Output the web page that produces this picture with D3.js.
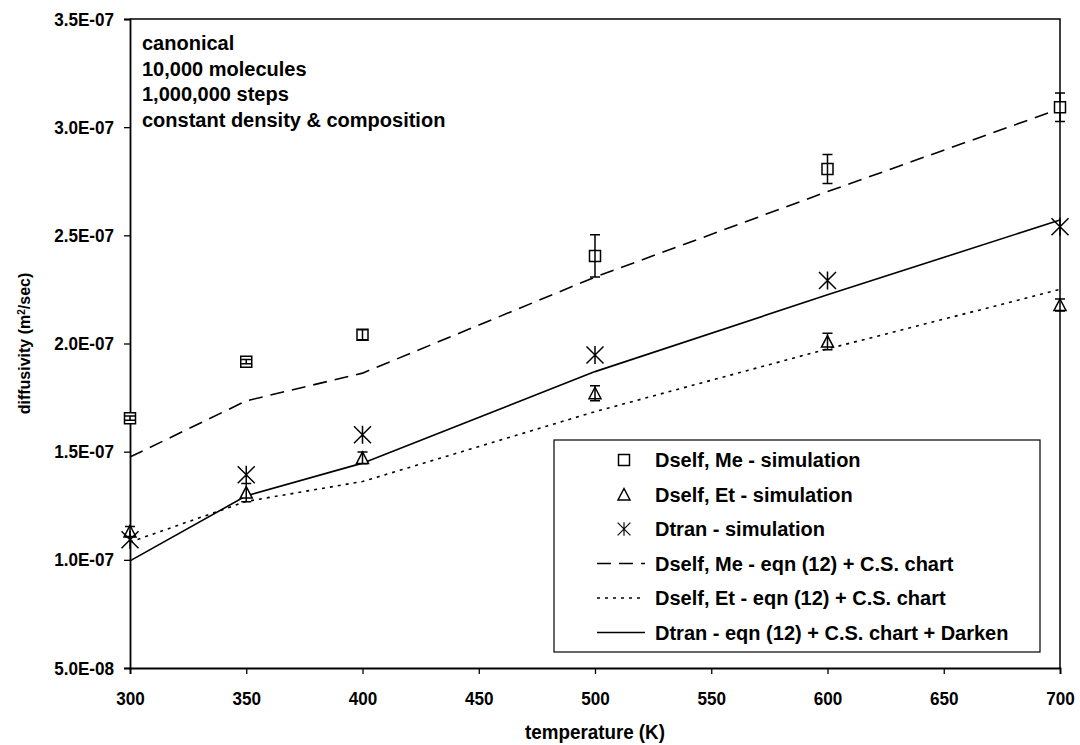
<!DOCTYPE html>
<html>
<head>
<meta charset="utf-8">
<script src="https://cdn.jsdelivr.net/npm/d3@7"></script>
<style>
  html, body { margin: 0; padding: 0; background: #fff; }
  svg { display: block; font-family: "Liberation Sans", Arial, sans-serif; font-weight: bold; }
</style>
</head>
<body>
<svg id="chart"></svg>
<script>
const temps = [300, 350, 400, 500, 600, 700];

// simulation results (m^2/sec) with error-bar half widths
const meSim = [1.655e-7, 1.916e-7, 2.040e-7, 2.405e-7, 2.807e-7, 3.092e-7];
const meErr = [0.010e-7, 0.010e-7, 0.023e-7, 0.098e-7, 0.067e-7, 0.066e-7];
const etSim = [1.131e-7, 1.311e-7, 1.471e-7, 1.770e-7, 2.009e-7, 2.178e-7];
const etErr = [0.023e-7, 0.042e-7, 0.027e-7, 0.035e-7, 0.038e-7, 0.028e-7];
const tranSim = [1.093e-7, 1.393e-7, 1.578e-7, 1.947e-7, 2.291e-7, 2.540e-7];

// eqn (12) + C.S. chart curves
const meEqn = [1.475e-7, 1.735e-7, 1.863e-7, 2.307e-7, 2.702e-7, 3.085e-7];
const etEqn = [1.082e-7, 1.270e-7, 1.362e-7, 1.685e-7, 1.975e-7, 2.250e-7];
const tranEqn = [0.995e-7, 1.296e-7, 1.447e-7, 1.870e-7, 2.225e-7, 2.571e-7];

const xTicks = [300, 350, 400, 450, 500, 550, 600, 650, 700];
const yTicks = [5e-8, 1e-7, 1.5e-7, 2e-7, 2.5e-7, 3e-7, 3.5e-7];

const notes = ['canonical', '10,000 molecules', '1,000,000 steps', 'constant density & composition'];
const legendLabels = [
  'Dself, Me - simulation',
  'Dself, Et - simulation',
  'Dtran - simulation',
  'Dself, Me - eqn (12) + C.S. chart',
  'Dself, Et - eqn (12) + C.S. chart',
  'Dtran - eqn (12) + C.S. chart + Darken'
];

const width = 1080, height = 745;
const margin = {left: 130, right: 20, top: 19, bottom: 77};
const squeeze = 0.9; // tick labels are a little condensed

const svg = d3.select('#chart')
  .attr('width', width)
  .attr('height', height);

const x = d3.scaleLinear()
  .domain([300, 700])
  .range([margin.left, width - margin.right]);

const y = d3.scaleLinear()
  .domain([5e-8, 3.5e-7])
  .range([height - margin.bottom, margin.top]);

const fmtE = v => {
  const [m, e] = v.toExponential(1).split('e');
  return m + 'E' + (+e < 0 ? '-' : '+') + String(Math.abs(+e)).padStart(2, '0');
};

// frame (top and right edges)
svg.append('path')
  .attr('d', `M${x(300)},${y(3.5e-7)}H${x(700)}V${y(5e-8)}`)
  .attr('fill', 'none')
  .attr('stroke', '#000')
  .attr('stroke-width', 1.5);

// axes
const yAxis = svg.append('g')
  .attr('transform', `translate(${x(300)},0)`)
  .call(d3.axisLeft(y).tickValues(yTicks).tickFormat(fmtE).tickSize(6));

const xAxis = svg.append('g')
  .attr('transform', `translate(0,${y(5e-8)})`)
  .call(d3.axisBottom(x).tickValues(xTicks).tickFormat(d3.format('d')).tickSize(6).tickPadding(18));

[yAxis, xAxis].forEach(g => {
  g.select('.domain').attr('stroke-width', 1.8);
  g.selectAll('.tick line').attr('stroke-width', 1.3);
  g.selectAll('text')
    .attr('font-family', '"Liberation Sans", Arial, sans-serif')
    .attr('font-weight', 'bold')
    .attr('font-size', 19)
    .attr('fill', '#000')
    .attr('transform', `scale(${squeeze},1)`);
});
yAxis.selectAll('text').attr('x', -16 / squeeze);

// axis titles
svg.append('text')
  .attr('transform', `translate(${x(500)},739) scale(0.94,1)`)
  .attr('text-anchor', 'middle')
  .attr('font-size', 20)
  .text('temperature (K)');

const yTitle = svg.append('text')
  .attr('transform', `translate(30,${y(2e-7)}) rotate(-90)`)
  .attr('text-anchor', 'middle')
  .attr('font-size', 16);
yTitle.append('tspan').text('diffusivity (m');
yTitle.append('tspan').attr('baseline-shift', 'super').attr('font-size', 10).text('2');
yTitle.append('tspan').text('/sec)');

// annotation block
svg.append('g')
  .selectAll('text')
  .data(notes)
  .join('text')
  .attr('x', 142)
  .attr('y', (d, i) => 50 + i * 25.7)
  .attr('font-size', 20)
  .text(d => d);

// model curves
const curves = [
  {vals: meEqn, dash: '14,8'},
  {vals: etEqn, dash: '3,5'},
  {vals: tranEqn, dash: null}
];
const line = d3.line().x((d, i) => x(temps[i])).y(d => y(d));

svg.append('g')
  .selectAll('path')
  .data(curves)
  .join('path')
  .attr('d', d => line(d.vals))
  .attr('fill', 'none')
  .attr('stroke', '#000')
  .attr('stroke-width', 1.6)
  .attr('stroke-dasharray', d => d.dash);

// marker shapes
const squarePath = 'M-5.5,-5.5H5.5V5.5H-5.5Z';
const trianglePath = 'M0,-6L6,5.5H-6Z';
const starPath = 'M-8.5,-8.5L8.5,8.5M-8.5,8.5L8.5,-8.5M0,-9V9';

function drawMarkers(vals, shape, fill) {
  svg.append('g')
    .selectAll('path')
    .data(vals)
    .join('path')
    .attr('transform', (d, i) => `translate(${x(temps[i])},${y(d)})`)
    .attr('d', shape)
    .attr('fill', fill)
    .attr('stroke', '#000')
    .attr('stroke-width', 1.5);
}

function drawErrors(vals, errs) {
  const g = svg.append('g')
    .attr('stroke', '#000')
    .attr('stroke-width', 1.5)
    .attr('fill', 'none');
  g.selectAll('path')
    .data(vals)
    .join('path')
    .attr('d', (d, i) => {
      const cx = x(temps[i]);
      const y0 = y(d + errs[i]), y1 = y(d - errs[i]);
      return `M${cx},${y0}V${y1}M${cx - 5},${y0}H${cx + 5}M${cx - 5},${y1}H${cx + 5}`;
    });
}

drawMarkers(meSim, squarePath, '#fff');
drawErrors(meSim, meErr);
drawMarkers(etSim, trianglePath, '#fff');
drawErrors(etSim, etErr);
drawMarkers(tranSim, starPath, 'none');

// legend
const lg = {left: 554, top: 440, right: 1040, bottom: 652};
svg.append('rect')
  .attr('x', lg.left)
  .attr('y', lg.top)
  .attr('width', lg.right - lg.left)
  .attr('height', lg.bottom - lg.top)
  .attr('fill', '#fff')
  .attr('stroke', '#000')
  .attr('stroke-width', 1.2);

const rowY = i => lg.top + 20 + i * 34.5;
const legendKeys = [
  {shape: squarePath, fill: '#fff'},
  {shape: trianglePath, fill: '#fff'},
  {shape: starPath, fill: 'none'},
  {dash: '14,8'},
  {dash: '3,5'},
  {dash: null}
];

const rows = svg.append('g')
  .selectAll('g')
  .data(legendKeys)
  .join('g')
  .attr('transform', (d, i) => `translate(0,${rowY(i)})`);

rows.filter(d => d.shape)
  .append('path')
  .attr('transform', d => `translate(624,0) scale(${d.shape === starPath ? 0.75 : 1})`)
  .attr('d', d => d.shape)
  .attr('fill', d => d.fill)
  .attr('stroke', '#000')
  .attr('stroke-width', 1.5);

rows.filter(d => !d.shape)
  .append('line')
  .attr('x1', 597)
  .attr('x2', 645)
  .attr('stroke', '#000')
  .attr('stroke-width', 1.6)
  .attr('stroke-dasharray', d => d.dash);

rows.append('text')
  .attr('x', 655)
  .attr('dy', '0.35em')
  .attr('font-size', 20)
  .text((d, i) => legendLabels[i]);
</script>
</body>
</html>
